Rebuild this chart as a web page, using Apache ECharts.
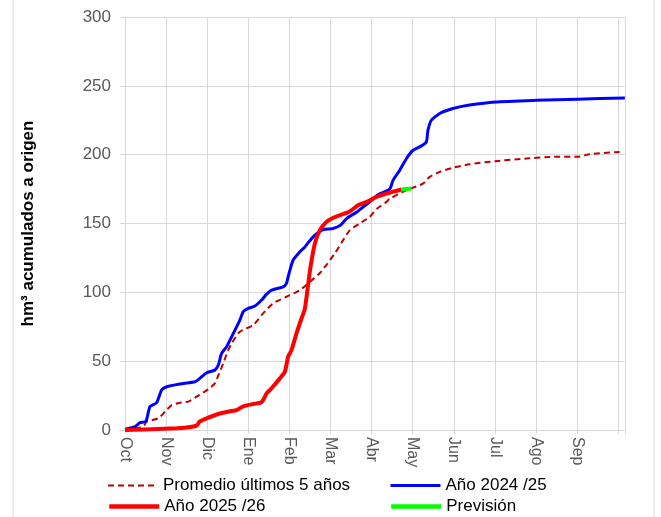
<!DOCTYPE html>
<html>
<head>
<meta charset="utf-8">
<script src="https://cdn.jsdelivr.net/npm/echarts@6/dist/echarts.min.js"></script>
<style>
html,body{margin:0;padding:0;background:#fff;}
#c{width:661px;height:517px;}
</style>
</head>
<body>
<div id="c"></div>
<script>
// Month tick labels (hydrological year Oct-Sep)
const months = ['Oct','Nov','Dic','Ene','Feb','Mar','Abr','May','Jun','Jul','Ago','Sep'];
// Series names
const names = ['Promedio últimos 5 años','Año 2024 /25','Año 2025 /26','Previsión'];
// [day since 1 Oct, hm3 accumulated]
const promedio = [[0,0],[13.5,2.4],[16,6],[24.6,8.5],[29.6,13.3],[34.5,18.1],[40.7,19.8],[46.8,20.6],[53,24.2],[61.6,29.5],[66.5,33.9],[69.7,41.2],[72.7,48.4],[76.4,58],[78.9,62.9],[85,71.4],[94.9,76.2],[102.2,84.7],[109.6,92],[119.5,96.8],[129.4,101.6],[136.8,107.6],[144.2,114],[149.1,120],[155.3,128.3],[161.4,137.9],[166.3,145],[173.7,150],[181.1,154.8],[186.1,160.5],[193.5,165.7],[195.9,168],[208.3,174.2],[220.5,179],[225.5,183.9],[232.9,187.5],[242.7,190.5],[255,193],[274,195.3],[297,197.2],[316.6,198.4],[334.7,198.4],[343.8,200.3],[366,202]];
const anio2425 = [[0,0.5],[7.4,2.4],[11.1,5.3],[15.5,6.3],[18.5,17],[23.4,19.8],[27.1,29],[30.8,31.4],[40.7,33.4],[51.8,35],[55.4,37.5],[60.4,41.6],[66.5,43.5],[69,47],[71.5,55.6],[75.2,60.5],[80.1,70],[85,79.8],[87.5,86],[91.2,88.3],[96.1,90],[101.1,94.4],[104.8,98.7],[108.5,101.6],[117,104],[119.5,106.5],[120.7,111.3],[124.4,123.4],[129.4,129.4],[133.1,133],[135.5,136],[140.5,141.5],[146.6,145.6],[154,146.4],[159.5,148.8],[163.9,153.6],[171.3,158.2],[176.2,162],[181.1,165.7],[186.1,170],[188.5,171.5],[195.9,175],[198.4,181.5],[203.3,188.7],[208.3,197.2],[213.1,203.2],[219.4,206.4],[223,209.3],[224.2,217.8],[226.7,225],[232.9,229.9],[242.7,233.5],[255,236],[274,238.3],[304.4,239.5],[334.7,240.3],[369.9,241.2]];
const anio2526 = [[0,0],[38.2,1.2],[45.6,1.8],[53,3.2],[55.4,6.2],[60.4,8.5],[70.2,12],[77.6,13.6],[82.6,14.5],[87.5,17.2],[94.9,18.9],[101.1,20.2],[104.8,26.6],[108.5,30.3],[114.6,37.5],[118.3,42.3],[120.7,53.2],[123.2,58],[126.9,70.2],[130.6,81],[133.1,88],[135.3,104],[137.2,118],[140.5,135.5],[144.2,145.2],[149.1,151.2],[153.8,154],[159,156],[166.3,158.8],[172.5,163.3],[178.7,165.7],[186.1,169.3],[193.5,171.8],[204.6,174.7]];
const prevision = [[204.6,174.7],[212,175.4]];

const STEP = 365/12;
const FONT = "'Liberation Sans', Arial, sans-serif";
const GRAY = '#d9d9d9';
const TXT = '#595959';

const chart = echarts.init(document.getElementById('c'), null, {renderer:'canvas'});
function leg(name, left, top, w){
  return {data:[name], left:left, top:top, itemWidth:50, itemHeight:16, itemGap:0,
    itemStyle:{opacity:0, color:'transparent', borderWidth:0},
    lineStyle:{width:w},
    textStyle:{color:'#000', fontSize:17, fontFamily:FONT}};
}
chart.setOption({
  animation:false,
  backgroundColor:'#ffffff',
  textStyle:{fontFamily:FONT},
  grid:{left:125, right:36, top:17, bottom:87, containLabel:false},
  xAxis:{
    type:'value', min:0, max:370, interval:STEP,
    axisLine:{show:true, lineStyle:{color:GRAY}},
    axisTick:{show:true, length:4, lineStyle:{color:GRAY}},
    splitLine:{show:true, lineStyle:{color:GRAY, width:1}},
    axisLabel:{
      rotate:-90, margin:7, color:TXT, fontSize:16, fontFamily:FONT,
      showMinLabel:true, showMaxLabel:true,
      formatter:function(v){
        const i = Math.round(v/STEP);
        if (Math.abs(v - i*STEP) < 0.5 && i >= 0 && i < 12) return months[i];
        return '';
      }
    }
  },
  yAxis:{
    type:'value', min:0, max:300, interval:50,
    name:'hm³ acumulados a origen', nameLocation:'middle', nameGap:88, nameRotate:90,
    nameTextStyle:{color:'#000', fontWeight:'bold', fontSize:17, fontFamily:FONT},
    axisLine:{show:true, lineStyle:{color:GRAY}},
    axisTick:{show:true, length:5, lineStyle:{color:GRAY}},
    splitLine:{show:true, lineStyle:{color:GRAY, width:1}},
    axisLabel:{color:TXT, fontSize:17, margin:14, fontFamily:FONT}
  },
  legend:[
    leg(names[0], 102, 472, 2),
    leg(names[1], 384, 472, 3),
    leg(names[2], 102, 493, 4.5),
    leg(names[3], 384, 493, 4.5)
  ],
  graphic:[{type:'rect', shape:{x:13, y:-5, width:641, height:530}, style:{fill:'none', stroke:GRAY, lineWidth:1}, silent:true, z:-10}],
  series:[
    {name:names[0], type:'line', data:promedio, symbol:'none', smooth:0.2, z:2,
     lineStyle:{color:'#c00000', width:2, type:[6,4]}, itemStyle:{color:'#c00000'}},
    {name:names[1], type:'line', data:anio2425, symbol:'none', smooth:0.2, z:3,
     lineStyle:{color:'#0000ff', width:3}, itemStyle:{color:'#0000ff'}},
    {name:names[2], type:'line', data:anio2526, symbol:'none', smooth:0.2, z:4,
     lineStyle:{color:'#ff0000', width:4}, itemStyle:{color:'#ff0000'}},
    {name:names[3], type:'line', data:prevision, symbol:'none', smooth:false, z:5,
     lineStyle:{color:'#00ff00', width:4}, itemStyle:{color:'#00ff00'}}
  ]
});
</script>
</body>
</html>
